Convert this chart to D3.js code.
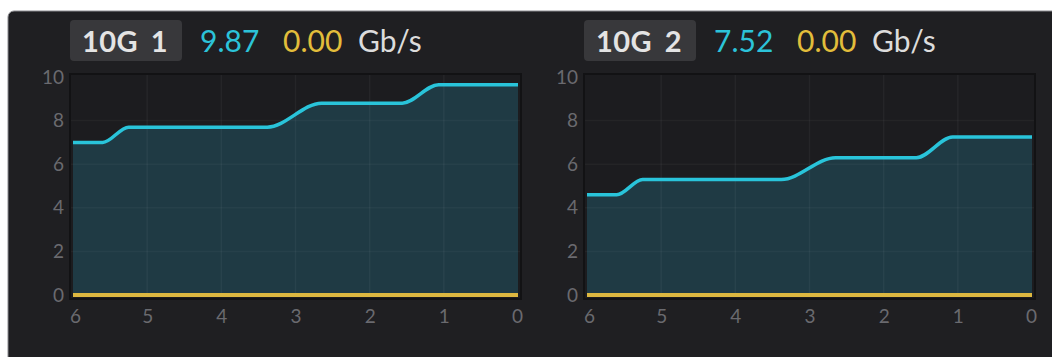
<!DOCTYPE html>
<html>
<head>
<meta charset="utf-8">
<script src="https://cdn.jsdelivr.net/npm/d3@7"></script>
<style>
  html, body { margin: 0; padding: 0; background: #ffffff; }
  svg { display: block; font-family: Lato, "Noto Sans", sans-serif; }
</style>
</head>
<body>
<svg id="chart" width="1052" height="357"></svg>
<script>
// Minutes ago (x axis runs from 6 down to 0)
const minutesAgo = [6, 5.6, 5.25, 3.38, 2.65, 1.56, 1.07, 0];

// Port names and current readings
const portNames = ["10G 1", "10G 2"];
const rxReadings = ["9.87", "7.52"];
const txReadings = ["0.00", "0.00"];
const unitLabel = "Gb/s";

// Throughput history, Gb/s
const port1Rx = [7.0, 7.0, 7.7, 7.7, 8.8, 8.8, 9.65, 9.65];
const port1Tx = [0, 0, 0, 0, 0, 0, 0, 0];
const port2Rx = [4.6, 4.6, 5.3, 5.3, 6.3, 6.3, 7.25, 7.25];
const port2Tx = [0, 0, 0, 0, 0, 0, 0, 0];

const yTicks = [0, 2, 4, 6, 8, 10];
const xTicks = [6, 5, 4, 3, 2, 1, 0];

const svg = d3.select("#chart");

// panel background
svg.append("rect")
  .attr("x", 8).attr("y", 11).attr("width", 1052).attr("height", 360)
  .attr("rx", 6).attr("fill", "#1f1f22")
  .attr("stroke", "#8a8a8e").attr("stroke-width", 1);

const ports = [
  { name: portNames[0], rx: rxReadings[0], tx: txReadings[0], rxSeries: port1Rx, txSeries: port1Tx, dx: 0 },
  { name: portNames[1], rx: rxReadings[1], tx: txReadings[1], rxSeries: port2Rx, txSeries: port2Tx, dx: 514 }
];

ports.forEach(p => {
  const g = svg.append("g").attr("transform", `translate(${p.dx},0)`);

  const x = d3.scaleLinear().domain([6, 0]).range([73, 518]);
  const y = d3.scaleLinear().domain([0, 10]).range([295, 77]);

  // header
  g.append("rect").attr("x", 70).attr("y", 20).attr("width", 112).attr("height", 41)
    .attr("rx", 4).attr("fill", "#38383b");
  g.append("text").attr("x", 125).attr("y", 52).attr("text-anchor", "middle")
    .attr("font-size", 29).attr("font-weight", 700).attr("fill", "#e4e4e4")
    .attr("letter-spacing", 0.5).attr("word-spacing", 5).text(p.name);
  g.append("text").attr("x", 200).attr("y", 52)
    .attr("font-size", 30).attr("font-weight", 400).attr("fill", "#2cc3d9").text(p.rx);
  g.append("text").attr("x", 283).attr("y", 52)
    .attr("font-size", 30).attr("font-weight", 400).attr("fill", "#e2bd3b").text(p.tx);
  g.append("text").attr("x", 358).attr("y", 52)
    .attr("font-size", 30).attr("font-weight", 400).attr("fill", "#dcdcdc").text(unitLabel);

  // plot frame
  g.append("rect").attr("x", 70).attr("y", 74).attr("width", 451).attr("height", 225)
    .attr("fill", "#1c1c1f").attr("stroke", "#121214").attr("stroke-width", 2);

  const data = minutesAgo.map((t, i) => ({ t, rx: p.rxSeries[i], tx: p.txSeries[i] }));

  const area = d3.area().curve(d3.curveMonotoneX)
    .x(d => x(d.t)).y0(y(0)).y1(d => y(d.rx));
  g.append("path").datum(data).attr("d", area).attr("fill", "#1f3a44");

  // grid
  g.append("g").selectAll("line").data(xTicks.slice(1, -1)).join("line")
    .attr("x1", d => x(d)).attr("x2", d => x(d)).attr("y1", 75).attr("y2", 297)
    .attr("stroke", "#ffffff").attr("stroke-opacity", 0.045).attr("stroke-width", 1.5);
  g.append("g").selectAll("line").data(yTicks.slice(1, -1)).join("line")
    .attr("x1", 71).attr("x2", 520).attr("y1", d => y(d)).attr("y2", d => y(d))
    .attr("stroke", "#ffffff").attr("stroke-opacity", 0.035).attr("stroke-width", 1.5);

  const rxLine = d3.line().curve(d3.curveMonotoneX).x(d => x(d.t)).y(d => y(d.rx));
  g.append("path").datum(data).attr("d", rxLine).attr("fill", "none")
    .attr("stroke", "#29c4da").attr("stroke-width", 3.5).attr("stroke-linejoin", "round");

  const txLine = d3.line().x(d => x(d.t)).y(d => y(d.tx));
  g.append("path").datum(data).attr("d", txLine).attr("fill", "none")
    .attr("stroke", "#dcb740").attr("stroke-width", 4);

  // axes
  const yAxis = g.append("g").attr("transform", "translate(64,0)")
    .call(d3.axisLeft(y).tickValues(yTicks).tickFormat(d3.format("d")).tickSize(0).tickPadding(0));
  yAxis.select(".domain").remove();
  yAxis.selectAll("text").attr("font-size", 19).attr("fill", "#6a6a6f")
    .attr("font-family", "Lato, sans-serif");

  const xAxis = g.append("g").attr("transform", "translate(0,309)")
    .call(d3.axisBottom(x).tickValues(xTicks).tickFormat(d3.format("d")).tickSize(0).tickPadding(0));
  xAxis.select(".domain").remove();
  xAxis.selectAll("text").attr("font-size", 19).attr("fill", "#6a6a6f")
    .attr("font-family", "Lato, sans-serif")
    .attr("dx", (d) => d === 6 ? 2 : (d === 0 ? -1 : 0));
});
</script>
</body>
</html>
